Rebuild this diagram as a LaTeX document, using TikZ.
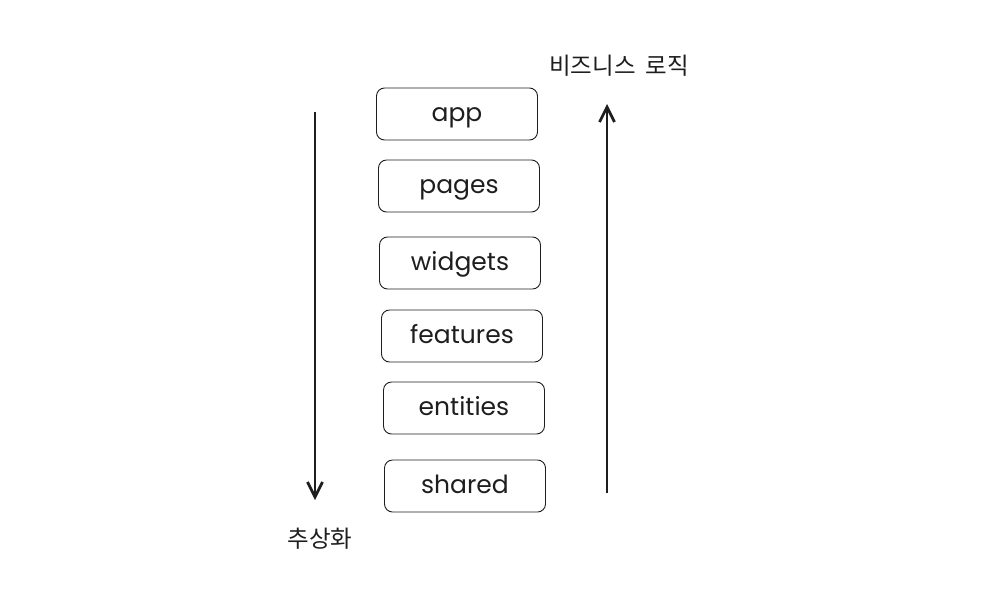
\documentclass[tikz,border=0pt]{standalone}
\usepackage{fontspec}
\setmainfont{Poppins}
\newfontfamily\kofont{Noto Sans CJK KR}
\usetikzlibrary{arrows.meta}
\definecolor{ink}{HTML}{1E1E1E}

\begin{document}
\begin{tikzpicture}[x=1pt,y=-1pt,
		layer/.style={draw=ink,line width=0.9,rounded corners=8,minimum width=161,minimum height=52,text height=14pt,text depth=0pt,text=ink,font=\fontsize{25}{25}\selectfont},
		flow/.style={draw=ink,line width=2.7,-{Straight Barb[length=15,width=15]}},
		klabel/.style={text=ink,font=\kofont\fontsize{23.5}{23.5}\selectfont}]
		
		\useasboundingbox (0,0) rectangle (990,606);
		
		%------------------------------------------------------
		\node[layer] (app) at (457,114) {app};
		\node[layer] (pages) at (459,186) {pages};
		\node[layer] (widgets) at (460,263) {widgets};
		\node[layer] (features) at (462,336) {features};
		\node[layer] (entities) at (464,408) {entities};
		\node[layer] (shared) at (465,486) {shared};
		%------------------------------------------------------
		

		%------------------------------------------------------
		\coordinate (absTop) at (315,112);
		\coordinate (absEnd) at (315,500);
		\draw[flow] (absTop) -- (absEnd);
		\node[klabel] (abstraction) at (320,539) {추상화};
		
		\coordinate (bizStart) at (607,493);
		\coordinate (bizEnd) at (607,104);
		\draw[flow] (bizStart) -- (bizEnd);
		\node[klabel] (business) at (619,66) {비즈니스\hspace{0.2em} 로직};
		%------------------------------------------------------
		
	\end{tikzpicture}
\end{document}
